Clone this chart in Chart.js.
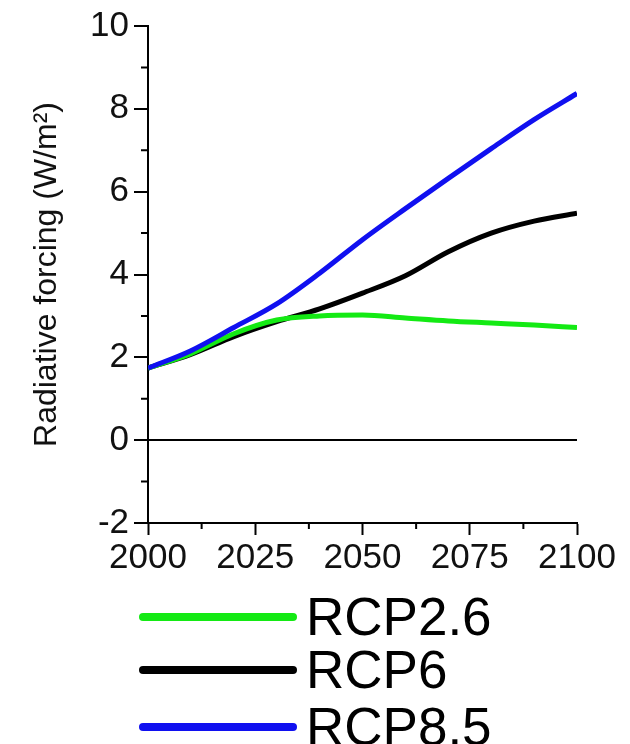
<!DOCTYPE html>
<html>
<head>
<meta charset="utf-8">
<script src="https://cdn.jsdelivr.net/npm/chart.js@4.4.1/dist/chart.umd.min.js"></script>
<style>
    html, body { margin: 0; padding: 0; background: #fff; }
    #wrap { width: 630px; height: 744px; position: relative; }
</style>
</head>
<body>
<div id="wrap"><canvas id="forcingChart"></canvas></div>
<script>
const years = [2000, 2010, 2020, 2030, 2040, 2050, 2060, 2070, 2080, 2090, 2100];
const rcp26 = [1.74, 2.09, 2.57, 2.9, 3.0, 3.02, 2.95, 2.88, 2.83, 2.78, 2.72];
const rcp6 = [1.74, 2.07, 2.5, 2.86, 3.17, 3.55, 3.97, 4.55, 5.0, 5.29, 5.48];
const rcp85 = [1.74, 2.16, 2.72, 3.29, 4.03, 4.84, 5.59, 6.32, 7.04, 7.74, 8.37];
const seriesNames = ['RCP2.6', 'RCP6', 'RCP8.5'];
const seriesColors = ['#14ea14', '#000000', '#1010f0'];
const xTicks = [2000, 2025, 2050, 2075, 2100];
const yTicks = [-2, 0, 2, 4, 6, 8, 10];

const FONT = "'Liberation Sans', Arial, Helvetica, sans-serif";

function toPoints(values) {
    return years.map((yr, i) => ({ x: yr, y: values[i] }));
}

// short minor ticks between the labelled ones
const minorTicks = {
    id: 'minorTicks',
    afterDraw(chart) {
        const ctx = chart.ctx;
        const xs = chart.scales.x;
        const ys = chart.scales.y;
        ctx.save();
        ctx.strokeStyle = '#000';
        ctx.lineWidth = 2;
        ctx.beginPath();
        for (let i = 0; i < xTicks.length - 1; i++) {
            const px = xs.getPixelForValue((xTicks[i] + xTicks[i + 1]) / 2);
            ctx.moveTo(px, xs.top);
            ctx.lineTo(px, xs.top + 6);
        }
        for (let i = 0; i < yTicks.length - 1; i++) {
            const py = ys.getPixelForValue((yTicks[i] + yTicks[i + 1]) / 2);
            ctx.moveTo(ys.right, py);
            ctx.lineTo(ys.right - 7, py);
        }
        ctx.stroke();
        ctx.restore();
    }
};

// legend stacked under the plot
const bottomLegend = {
    id: 'bottomLegend',
    afterDraw(chart) {
        const ctx = chart.ctx;
        const area = chart.chartArea;
        const rows = [94, 147, 204];
        ctx.save();
        ctx.font = '53px ' + FONT;
        ctx.textBaseline = 'alphabetic';
        ctx.textAlign = 'left';
        chart.data.datasets.forEach((ds, i) => {
            const y = area.bottom + rows[i];
            ctx.strokeStyle = ds.borderColor;
            ctx.lineWidth = 8;
            ctx.lineCap = 'round';
            ctx.beginPath();
            ctx.moveTo(143, y);
            ctx.lineTo(293, y);
            ctx.stroke();
            ctx.fillStyle = '#000';
            ctx.fillText(ds.label, 306, y + 18);
        });
        ctx.restore();
    }
};

const datasets = [rcp26, rcp6, rcp85].map((vals, i) => ({
    label: seriesNames[i],
    data: toPoints(vals),
    borderColor: seriesColors[i],
    backgroundColor: seriesColors[i],
    borderWidth: 5,
    pointRadius: 0,
    cubicInterpolationMode: 'monotone',
    fill: false,
    order: [1, 2, 0][i]
}));

new Chart(document.getElementById('forcingChart'), {
    type: 'line',
    data: { datasets: datasets },
    options: {
        responsive: true,
        maintainAspectRatio: false,
        animation: false,
        layout: { padding: { top: 24, right: 53, bottom: 171, left: 0 } },
        plugins: {
            legend: { display: false },
            tooltip: { enabled: false }
        },
        scales: {
            x: {
                type: 'linear',
                min: 2000,
                max: 2100,
                afterBuildTicks: scale => { scale.ticks = xTicks.map(v => ({ value: v })); },
                afterFit: scale => { scale.height = 50; },
                border: { display: true, color: '#000', width: 2 },
                grid: { drawOnChartArea: false, drawTicks: true, tickLength: 12, tickColor: '#000', tickWidth: 2 },
                ticks: {
                    color: '#111',
                    padding: 2,
                    maxRotation: 0,
                    font: { family: FONT, size: 35 },
                    callback: v => String(v)
                }
            },
            y: {
                min: -2,
                max: 10,
                afterBuildTicks: scale => { scale.ticks = yTicks.map(v => ({ value: v })); },
                afterFit: scale => { scale.width = 148; },
                border: { display: true, color: '#000', width: 2 },
                grid: {
                    drawOnChartArea: true,
                    color: c => (c.tick && c.tick.value === 0) ? '#000' : 'rgba(0,0,0,0)',
                    lineWidth: 2,
                    tickLength: 14,
                    tickColor: '#000',
                    tickWidth: 2
                },
                ticks: { color: '#111', padding: 5, font: { family: FONT, size: 35 } },
                title: {
                    display: true,
                    text: 'Radiative forcing (W/m²)',
                    color: '#111',
                    padding: { top: 28, bottom: 0 },
                    font: { family: FONT, size: 32 }
                }
            }
        }
    },
    plugins: [minorTicks, bottomLegend]
});
</script>
</body>
</html>
